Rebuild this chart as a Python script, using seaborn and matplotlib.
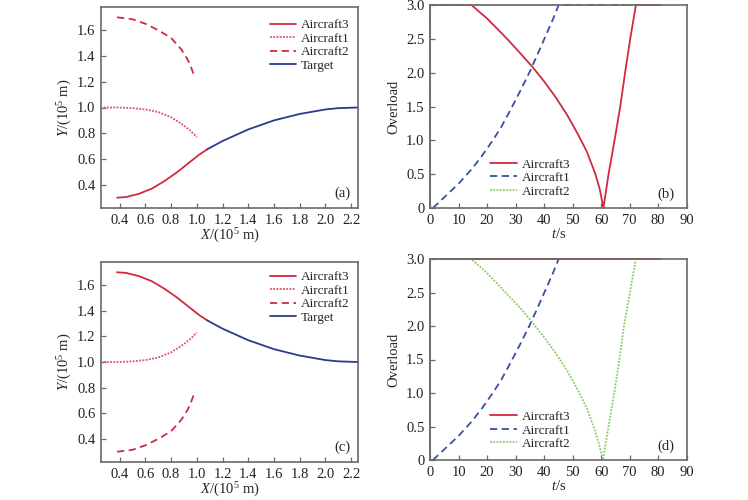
#!/usr/bin/env python3

"""Trajectories and overload curves of three aircraft, four panels."""

import pandas as pd
import seaborn as sns
import matplotlib
matplotlib.use("Agg")
import matplotlib.pyplot as plt
from matplotlib.ticker import FuncFormatter

####################################################################################################
# DATA (X, Y in 10^5 m ; t in s)

# panel (a) trajectories
A_AC3_X = [0.38, 0.45, 0.55, 0.65, 0.75, 0.85, 0.95, 1.02, 1.08]
A_AC3_Y = [0.30, 0.305, 0.33, 0.37, 0.43, 0.50, 0.58, 0.635, 0.675]
A_AC1_X = [0.25, 0.40, 0.50, 0.60, 0.70, 0.80, 0.90, 0.95, 1.00]
A_AC1_Y = [1.00, 1.00, 0.995, 0.985, 0.965, 0.925, 0.86, 0.82, 0.77]
A_AC2_X = [0.38, 0.50, 0.60, 0.70, 0.80, 0.88, 0.93, 0.96, 0.985]
A_AC2_Y = [1.70, 1.685, 1.65, 1.60, 1.54, 1.45, 1.37, 1.30, 1.23]
A_TGT_X = [1.08, 1.20, 1.40, 1.60, 1.80, 2.00, 2.10, 2.25]
A_TGT_Y = [0.675, 0.74, 0.83, 0.90, 0.95, 0.985, 0.995, 1.00]

# panel (c) trajectories
C_AC3_X = [0.38, 0.45, 0.55, 0.65, 0.75, 0.85, 0.95, 1.02, 1.08]
C_AC3_Y = [1.70, 1.695, 1.67, 1.63, 1.57, 1.50, 1.42, 1.365, 1.325]
C_AC1_X = [0.25, 0.40, 0.50, 0.60, 0.70, 0.80, 0.90, 0.95, 1.00]
C_AC1_Y = [1.00, 1.00, 1.005, 1.015, 1.035, 1.075, 1.14, 1.18, 1.23]
C_AC2_X = [0.38, 0.50, 0.60, 0.70, 0.80, 0.88, 0.93, 0.96, 0.985]
C_AC2_Y = [0.30, 0.315, 0.35, 0.40, 0.46, 0.55, 0.63, 0.70, 0.77]
C_TGT_X = [1.08, 1.20, 1.40, 1.60, 1.80, 2.00, 2.10, 2.25]
C_TGT_Y = [1.325, 1.26, 1.17, 1.10, 1.05, 1.015, 1.005, 1.00]

# panel (b) overload
B_AC3_T = [0, 0, 14.5, 20, 27, 32, 36, 40, 44, 48, 52, 55, 58, 59.5, 60.8,
           62.6, 64.7, 66.7, 68.4, 70.2, 72.2, 81]
B_AC3_N = [0, 3, 3, 2.8, 2.5, 2.27, 2.08, 1.87, 1.64, 1.38, 1.08, 0.83, 0.5, 0.28, 0,
           0.5, 1.0, 1.5, 2.0, 2.5, 3.0, 3.0]
B_AC1_T = [1, 5, 10, 14.5, 18, 22, 25, 28.2, 31.5, 34.8, 38, 40.8, 43, 45.1, 72]
B_AC1_N = [0, 0.16, 0.36, 0.57, 0.76, 1.0, 1.2, 1.45, 1.72, 2.0, 2.3, 2.57, 2.78, 3.0, 3.0]
B_AC2_T = [0, 0, 72]
B_AC2_N = [0, 3, 3]

# panel (d) overload
D_AC3_T = [0, 0, 81]
D_AC3_N = [0, 3, 3]
D_AC1_T = [1, 5, 10, 14.5, 18, 22, 25, 28.2, 31.5, 34.8, 38, 40.8, 43, 45.1]
D_AC1_N = [0, 0.16, 0.36, 0.57, 0.76, 1.0, 1.2, 1.45, 1.72, 2.0, 2.3, 2.57, 2.78, 3.0]
D_AC2_T = [0, 0, 14.5, 20, 26.5, 32, 36, 40, 44, 48, 52, 55, 57.5, 59.2, 60.6,
           62.6, 64.6, 66.4, 68.0, 70.1, 72.2]
D_AC2_N = [0, 3, 3, 2.79, 2.5, 2.25, 2.05, 1.83, 1.6, 1.34, 1.03, 0.77, 0.48, 0.25, 0,
           0.5, 1.0, 1.5, 2.0, 2.5, 3.0]

POS_TICKS = [0.4, 0.6, 0.8, 1.0, 1.2, 1.4, 1.6, 1.8, 2.0, 2.2]
POS_YTICKS = [0.4, 0.6, 0.8, 1.0, 1.2, 1.4, 1.6]
T_TICKS = [0, 10, 20, 30, 40, 50, 60, 70, 80, 90]
N_TICKS = [0, 0.5, 1.0, 1.5, 2.0, 2.5, 3.0]

####################################################################################################
# STYLE

RED = "#d02a40"
PINK = "#d9506a"
NAVY = "#2c3a8e"
BLUE = "#3b4f9e"
GREEN = "#86cc66"
SPINE = "#6a6a6a"
DOT = (0, (1, 0.8))
DASH = (0, (4, 2.5))
TICK_FS = 10.5
LABEL_FS = 10.5
LEGEND_FS = 9.5

sns.set_theme(style="white")
plt.rcParams["font.family"] = ["Liberation Serif", "DejaVu Serif"]
plt.rcParams["mathtext.fontset"] = "custom"
plt.rcParams["mathtext.rm"] = "Liberation Serif"
plt.rcParams["mathtext.it"] = "Liberation Serif:italic"
plt.rcParams["font.size"] = 9


def line(ax, x, y, color, ls="-", label=None, lw=1.3):
    df = pd.DataFrame({"x": x, "y": y})
    sns.lineplot(data=df, x="x", y="y", ax=ax, color=color, linestyle=ls, lw=lw,
                 sort=False, estimator=None, label=label, clip_on=False)


def style_axes(ax):
    for s in ax.spines.values():
        s.set_color(SPINE)
        s.set_linewidth(1.2)
    ax.tick_params(bottom=True, left=True, direction="in", length=3.5, width=0.9,
                   color=SPINE, labelsize=TICK_FS, pad=4, labelcolor="#222222")
    ax.set_xlabel("")
    ax.set_ylabel("")


fig = plt.figure(figsize=(7.48, 5.0), dpi=100)
ax_a = fig.add_axes([0.135, 0.584, 0.344, 0.402])
ax_b = fig.add_axes([0.575, 0.584, 0.343, 0.406])
ax_c = fig.add_axes([0.135, 0.076, 0.344, 0.400])
ax_d = fig.add_axes([0.575, 0.080, 0.343, 0.402])

# trajectory panels
for ax, data, tag, ly in [
    (ax_a, (A_AC3_X, A_AC3_Y, A_AC1_X, A_AC1_Y, A_AC2_X, A_AC2_Y, A_TGT_X, A_TGT_Y), "(a)", 0.94),
    (ax_c, (C_AC3_X, C_AC3_Y, C_AC1_X, C_AC1_Y, C_AC2_X, C_AC2_Y, C_TGT_X, C_TGT_Y), "(c)", 0.955),
]:
    line(ax, data[0], data[1], RED, "-", "Aircraft3")
    line(ax, data[2], data[3], PINK, DOT, "Aircraft1")
    line(ax, data[4], data[5], RED, DASH, "Aircraft2")
    line(ax, data[6], data[7], NAVY, "-", "Target")
    style_axes(ax)
    ax.set_xlim(0.255, 2.255)
    ax.set_ylim(0.22, 1.78)
    ax.set_xticks(POS_TICKS)
    ax.set_yticks(POS_YTICKS)
    ax.xaxis.set_major_formatter(FuncFormatter(lambda v, p: f"{v:.1f}"))
    ax.yaxis.set_major_formatter(FuncFormatter(lambda v, p: f"{v:.1f}"))
    ax.set_xlabel(r"$X$/(10$^5$ m)", fontsize=LABEL_FS, labelpad=0)
    ax.set_ylabel(r"$Y$/(10$^5$ m)", fontsize=LABEL_FS, labelpad=2)
    ax.text(0.938, 0.075, tag, transform=ax.transAxes, ha="center", va="center",
            fontsize=LABEL_FS)
    ax.legend(loc="upper left", bbox_to_anchor=(0.655, ly), frameon=False,
              fontsize=LEGEND_FS, borderpad=0, borderaxespad=0, labelspacing=0.1,
              handlelength=2.0, handletextpad=0.4)

# overload panels
for ax, data, tag in [
    (ax_b, (B_AC3_T, B_AC3_N, B_AC1_T, B_AC1_N, B_AC2_T, B_AC2_N), "(b)"),
    (ax_d, (D_AC3_T, D_AC3_N, D_AC1_T, D_AC1_N, D_AC2_T, D_AC2_N), "(d)"),
]:
    line(ax, data[0], data[1], RED, "-", "Aircraft3")
    line(ax, data[2], data[3], BLUE, DASH, "Aircraft1")
    line(ax, data[4], data[5], GREEN, DOT, "Aircraft2")
    style_axes(ax)
    ax.set_xlim(0, 90)
    ax.set_ylim(0, 3)
    ax.set_xticks(T_TICKS)
    ax.set_yticks(N_TICKS)
    ax.yaxis.set_major_formatter(FuncFormatter(lambda v, p: "0" if v == 0 else f"{v:.1f}"))
    ax.set_xlabel(r"$t$/s", fontsize=LABEL_FS, labelpad=0)
    ax.set_ylabel("Overload", fontsize=LABEL_FS, labelpad=4)
    ax.text(0.92, 0.07, tag, transform=ax.transAxes, ha="center", va="center",
            fontsize=LABEL_FS)
    ax.legend(loc="upper left", bbox_to_anchor=(0.235, 0.245), frameon=False,
              fontsize=LEGEND_FS, borderpad=0, borderaxespad=0, labelspacing=0.1,
              handlelength=2.0, handletextpad=0.4)

fig.savefig("out.png", dpi=100)
